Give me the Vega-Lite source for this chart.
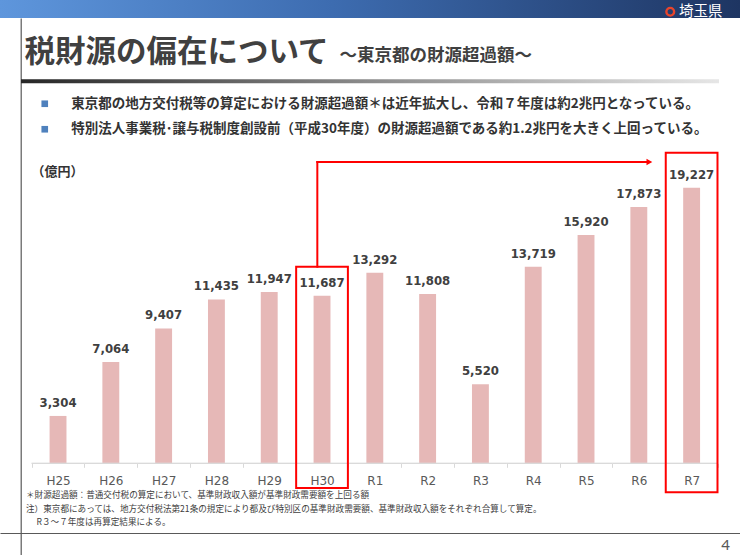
{
  "$schema": "https://vega.github.io/schema/vega-lite/v6.json",
  "padding": 0,
  "bounds": "flush",
  "spacing": 0,
  "config": {
    "view": {"stroke": null},
    "font": "Noto Sans CJK JP"
  },
  "resolve": {"scale": {"fill": "independent", "stroke": "independent"}},
  "datasets": {
    "values": [
      {"year": "H25", "amount": 3304},
      {"year": "H26", "amount": 7064},
      {"year": "H27", "amount": 9407},
      {"year": "H28", "amount": 11435},
      {"year": "H29", "amount": 11947},
      {"year": "H30", "amount": 11687},
      {"year": "R1", "amount": 13292},
      {"year": "R2", "amount": 11808},
      {"year": "R3", "amount": 5520},
      {"year": "R4", "amount": 13719},
      {"year": "R5", "amount": 15920},
      {"year": "R6", "amount": 17873},
      {"year": "R7", "amount": 19227}
    ],
    "boxes": [
      {"year": "H30", "top": 13716, "bottom": -1723},
      {"year": "R7", "top": 21669, "bottom": -2023}
    ],
    "arrow": [
      {"from": "H30", "to": "R6", "low": 13716, "high": 21020}
    ],
    "notes": [
      {"text": "東京都の地方交付税等の算定における財源超過額＊は近年拡大し、令和７年度は約2兆円となっている。"},
      {"text": "特別法人事業税･譲与税制度創設前（平成30年度）の財源超過額である約1.2兆円を大きく上回っている。"}
    ],
    "pref": [{"name": "埼玉県"}]
  },
  "vconcat": [
    {
      "width": 740,
      "height": 18,
      "data": {"name": "pref"},
      "title": {
        "text": "税財源の偏在について",
        "orient": "bottom",
        "anchor": "start",
        "frame": "group",
        "offset": 41.8,
        "dx": 24.5,
        "baseline": "alphabetic",
        "font": "Noto Sans CJK JP",
        "fontSize": 30.5,
        "fontWeight": "bold",
        "color": "#404040"
      },
      "layer": [
        {
          "mark": {
            "type": "rect",
            "fill": {
              "gradient": "linear",
              "x1": 0, "y1": 0, "x2": 1, "y2": 0,
              "stops": [
                {"offset": 0, "color": "#5E96DC"},
                {"offset": 0.45, "color": "#3D6CB0"},
                {"offset": 1, "color": "#1E3562"}
              ]
            }
          },
          "encoding": {}
        },
        {
          "mark": {"type": "point", "opacity": 0},
          "encoding": {
            "stroke": {
              "field": "name",
              "type": "nominal",
              "scale": {"range": ["#E8452C"]},
              "legend": {
                "orient": "none",
                "legendX": 663,
                "legendY": 4.5,
                "title": null,
                "padding": 0,
                "symbolType": "circle",
                "symbolSize": 60,
                "symbolStrokeWidth": 2.4,
                "symbolFillColor": "#FFFFFF",
                "symbolOpacity": 1,
                "labelColor": "#FFFFFF",
                "labelFont": "Noto Sans CJK JP",
                "labelFontSize": 14.5,
                "labelOffset": 1.5,
                "labelLimit": 200
              }
            }
          }
        }
      ]
    },
    {
      "width": 740,
      "height": 537,
      "resolve": {"axis": {"x": "independent", "y": "independent"}},
      "layer": [
        {
          "layer": [
            {
              "data": {"name": "values"},
              "mark": {"type": "bar", "width": {"band": 0.32}, "color": "#E6B8B7"},
              "encoding": {
                "x": {
                  "field": "year",
                  "type": "nominal",
                  "scale": {
                    "domain": ["H25", "H26", "H27", "H28", "H29", "H30", "R1", "R2", "R3", "R4", "R5", "R6", "R7"],
                    "paddingInner": 0,
                    "paddingOuter": 0.5076,
                    "align": 0.59
                  },
                  "axis": {
                    "orient": "bottom",
                    "offset": -91.7,
                    "domain": false,
                    "ticks": true,
                    "tickBand": "extent",
                    "tickSize": 4,
                    "tickColor": "#D9D9D9",
                    "tickWidth": 1,
                    "grid": false,
                    "labelAngle": 0,
                    "labelFont": "DejaVu Sans",
                    "labelFontSize": 12,
                    "labelColor": "#595959",
                    "labelPadding": 17,
                    "labelBaseline": "alphabetic",
                    "title": [
                      "＊財源超過額：普通交付税の算定において、基準財政収入額が基準財政需要額を上回る額",
                      "注）東京都にあっては、地方交付税法第21条の規定により都及び特別区の基準財政需要額、基準財政収入額をそれぞれ合算して算定。",
                      "\u200b\u3000 R３～７年度は再算定結果による。"
                    ],
                    "titleX": 25.5,
                    "titleY": 34.5,
                    "titleAlign": "left",
                    "titleBaseline": "alphabetic",
                    "titleAngle": 0,
                    "titleFont": "Noto Sans CJK JP",
                    "titleFontSize": 8.6,
                    "titleFontWeight": "normal",
                    "titleColor": "#404040",
                    "titleLineHeight": 13.3
                  }
                },
                "y": {
                  "field": "amount",
                  "type": "quantitative",
                  "scale": {"domain": [-6397, 31066], "nice": false},
                  "axis": {
                    "orient": "left",
                    "offset": -20.7,
                    "domain": true,
                    "domainColor": "#595959",
                    "domainWidth": 1.2,
                    "ticks": false,
                    "labels": false,
                    "grid": false,
                    "title": "（億円）",
                    "titleAngle": 0,
                    "titleX": 10.2,
                    "titleY": 153.7,
                    "titleAlign": "left",
                    "titleBaseline": "middle",
                    "titleFont": "Noto Sans CJK JP",
                    "titleFontSize": 13,
                    "titleFontWeight": "bold",
                    "titleColor": "#333333"
                  }
                }
              }
            },
            {
              "data": {"name": "pref"},
              "mark": {
                "type": "rect",
                "fill": {
                  "gradient": "linear",
                  "x1": 0, "y1": 0, "x2": 1, "y2": 0,
                  "stops": [
                    {"offset": 0, "color": "rgba(255,255,255,0)"},
                    {"offset": 0.0279, "color": "rgba(255,255,255,0)"},
                    {"offset": 0.028, "color": "#262626"},
                    {"offset": 0.5, "color": "#8C8C8C"},
                    {"offset": 0.971, "color": "#E6E6E6"},
                    {"offset": 0.9712, "color": "rgba(255,255,255,0)"},
                    {"offset": 1, "color": "rgba(255,255,255,0)"}
                  ]
                }
              },
              "encoding": {
                "y": {"datum": 26789, "type": "quantitative"},
                "y2": {"datum": 26510}
              }
            },
            {
              "data": {"name": "values"},
              "mark": {"type": "rect", "fillOpacity": 0, "stroke": "#D9D9D9", "strokeWidth": 1},
              "encoding": {
                "x": {"field": "year", "type": "nominal"},
                "y": {"datum": 0, "type": "quantitative"},
                "y2": {"datum": 0}
              }
            },
            {
              "data": {"name": "values"},
              "mark": {
                "type": "text",
                "dy": -9,
                "baseline": "alphabetic",
                "align": "center",
                "font": "DejaVu Sans Condensed",
                "fontWeight": "bold",
                "fontSize": 13,
                "color": "#404040"
              },
              "encoding": {
                "x": {"field": "year", "type": "nominal"},
                "y": {"field": "amount", "type": "quantitative"},
                "text": {"field": "amount", "type": "quantitative", "format": ","}
              }
            },
            {
              "data": {"name": "boxes"},
              "mark": {"type": "rect", "width": {"band": 0.98}, "fillOpacity": 0, "stroke": "#FF0000", "strokeWidth": 2},
              "encoding": {
                "x": {"field": "year", "type": "nominal"},
                "y": {"field": "top", "type": "quantitative"},
                "y2": {"field": "bottom"}
              }
            },
            {
              "data": {"name": "notes"},
              "mark": {"type": "point", "opacity": 0},
              "encoding": {
                "fill": {
                  "field": "text",
                  "type": "nominal",
                  "sort": null,
                  "scale": {"range": ["#4F81BD", "#4F81BD"]},
                  "legend": {
                    "orient": "none",
                    "legendX": 38,
                    "legendY": 79,
                    "title": null,
                    "padding": 0,
                    "symbolType": "square",
                    "symbolSize": 44,
                    "symbolStrokeWidth": 0,
                    "symbolOpacity": 1,
                    "labelFont": "Noto Sans CJK JP",
                    "labelFontSize": 13.5,
                    "labelFontWeight": "bold",
                    "labelColor": "#333333",
                    "labelLimit": 900,
                    "labelOffset": 19.7,
                    "rowPadding": 10.5
                  }
                }
              }
            }
          ]
        },
        {
          "data": {"name": "arrow"},
          "layer": [
            {
              "mark": {"type": "rule", "color": "#FF0000", "strokeWidth": 2, "strokeCap": "square"},
              "encoding": {
                "x": {
                  "field": "from",
                  "type": "nominal",
                  "bandPosition": 0.411,
                  "axis": {
                    "orient": "top",
                    "offset": -515,
                    "domain": true,
                    "domainColor": "#595959",
                    "domainWidth": 1.2,
                    "ticks": false,
                    "labels": false,
                    "grid": false,
                    "title": "～東京都の財源超過額～",
                    "titleX": 339,
                    "titleY": -473,
                    "titleAlign": "left",
                    "titleBaseline": "alphabetic",
                    "titleAngle": 0,
                    "titleFont": "Noto Sans CJK JP",
                    "titleFontSize": 17.5,
                    "titleFontWeight": "bold",
                    "titleColor": "#404040"
                  }
                },
                "y": {
                  "field": "low",
                  "type": "quantitative",
                  "axis": {
                    "orient": "right",
                    "domain": false,
                    "ticks": false,
                    "labels": false,
                    "grid": false,
                    "title": "4",
                    "titleX": -15,
                    "titleY": 531,
                    "titleAngle": 0,
                    "titleAlign": "center",
                    "titleBaseline": "alphabetic",
                    "titleFont": "Noto Sans",
                    "titleFontSize": 15,
                    "titleFontWeight": "normal",
                    "titleColor": "#595959"
                  }
                },
                "y2": {"field": "high"}
              }
            },
            {
              "mark": {"type": "rule", "color": "#FF0000", "strokeWidth": 2, "strokeCap": "square"},
              "encoding": {
                "x": {"field": "from", "type": "nominal", "bandPosition": 0.411},
                "x2": {"field": "to", "bandPosition": 0.636},
                "y": {"field": "high", "type": "quantitative"}
              }
            },
            {
              "mark": {"type": "point", "shape": "triangle-right", "filled": true, "color": "#FF0000", "size": 45, "opacity": 1},
              "encoding": {
                "x": {"field": "to", "type": "nominal", "bandPosition": 0.7},
                "y": {"field": "high", "type": "quantitative"}
              }
            }
          ]
        }
      ]
    }
  ]
}
